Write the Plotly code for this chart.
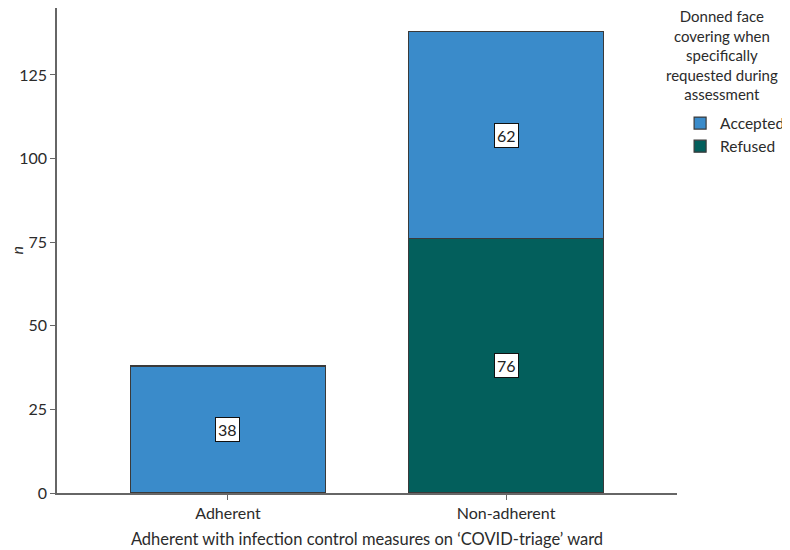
import plotly.graph_objects as go

# adherence groups and counts
categories = ["Adherent", "Non-adherent"]
refused = [None, 76]
accepted = [38, 62]
legend_title = "Donned face<br>covering when<br>specifically<br>requested during<br>assessment"

col_accepted = "#3a8bca"
col_refused = "#035f5c"
font_family = "Lato, Open Sans, sans-serif"
txt = "#2b2b2b"

fig = go.Figure()

# refused drawn first so it sits at the bottom of the stack
fig.add_trace(go.Bar(
    x=categories, y=refused, name="Refused",
    marker=dict(color=col_refused, line=dict(color="#3a3a3a", width=1.2)),
    width=0.7,
))
fig.add_trace(go.Bar(
    x=categories, y=accepted, name="Accepted",
    marker=dict(color=col_accepted, line=dict(color="#3a3a3a", width=1.2)),
    width=0.7,
))

# boxed count labels in the middle of each segment
for i, cat in enumerate(categories):
    base = 0
    for val in (refused[i], accepted[i]):
        if val:
            fig.add_annotation(
                x=cat, y=base + val / 2, text=str(val), showarrow=False,
                font=dict(size=16, color="#222222", family=font_family),
                bgcolor="white", bordercolor="#111111", borderwidth=1, borderpad=2,
            )
            base += val

# legend title as a centred block of text
fig.add_annotation(
    xref="paper", yref="paper", x=1.0726, y=1.006, xanchor="center", yanchor="top",
    text=legend_title, showarrow=False, align="center",
    font=dict(size=15, color=txt, family=font_family),
)

# y axis title, italic n
fig.add_annotation(
    xref="paper", yref="paper", x=-0.066, y=0.5, xanchor="center", yanchor="middle",
    text="<i>n</i>", showarrow=False, textangle=-90,
    font=dict(size=16, color=txt, family=font_family),
)

fig.update_layout(
    barmode="stack",
    width=782, height=542,
    margin=dict(l=49, r=113, t=0, b=57),
    paper_bgcolor="white", plot_bgcolor="white",
    font=dict(family=font_family, size=16, color=txt),
    legend=dict(
        traceorder="reversed",
        x=1.005, xanchor="left", y=0.797, yanchor="top",
        font=dict(size=15.5), bgcolor="rgba(0,0,0,0)",
        tracegroupgap=0,
    ),
    xaxis=dict(
        range=[-0.615, 1.615], automargin=False,
        showline=True, linecolor="#666666", linewidth=1.5,
        ticks="outside", ticklen=5, tickcolor="#666666",
        title=dict(text="Adherent with infection control measures on \u2018COVID-triage\u2019 ward",
                   font=dict(size=16.5), standoff=12),
        showgrid=False,
    ),
    yaxis=dict(
        range=[0, 145.0], automargin=False,
        tickvals=[0, 25, 50, 75, 100, 125],
        showline=True, linecolor="#666666", linewidth=1.5,
        ticks="outside", ticklen=5, tickcolor="#666666",
        showgrid=False, zeroline=False,
    ),
)

fig.write_html("out.html")
